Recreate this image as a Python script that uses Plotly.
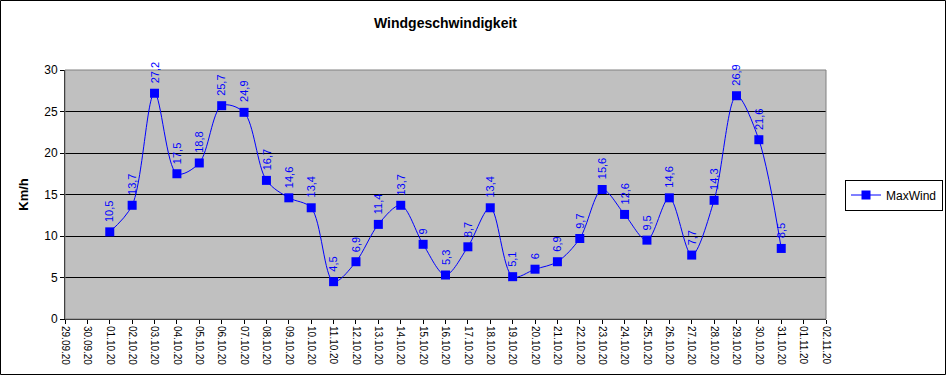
import plotly.graph_objects as go

dates = ["2020-10-%02d" % d for d in range(1, 32)]
max_wind = [10.5, 13.7, 27.2, 17.5, 18.8, 25.7, 24.9, 16.7, 14.6, 13.4, 4.5, 6.9, 11.4, 13.7, 9,
            5.3, 8.7, 13.4, 5.1, 6, 6.9, 9.7, 15.6, 12.6, 9.5, 14.6, 7.7, 14.3, 26.9, 21.6, 8.5]
x_range = ["2020-09-29", "2020-11-02"]
y_ticks = [0, 5, 10, 15, 20, 25, 30]

W, H = 946, 375
L, R, T, B = 65, 120, 70, 56
pw, ph = W - L - R, H - T - B
FONT = "Liberation Sans, Arial, sans-serif"
BLUE = "#0000FF"

fig = go.Figure()
fig.add_trace(go.Scatter(
    x=dates, y=max_wind, mode="lines+markers", name="MaxWind",
    line=dict(color=BLUE, width=1, shape="spline", smoothing=0.9),
    marker=dict(symbol="square", size=9, color=BLUE),
))

for d, v in zip(dates, max_wind):
    fig.add_annotation(
        x=d, y=v, text=("%g" % v).replace(".", ","), showarrow=False,
        textangle=-90, yanchor="bottom", xanchor="center", yshift=8,
        font=dict(family=FONT, size=11, color=BLUE),
    )

# plot area border (gray) and outer frame
fig.add_shape(type="rect", xref="paper", yref="paper", x0=0, x1=1, y0=0, y1=1,
              line=dict(color="#808080", width=1), layer="above")
fig.add_shape(type="rect", xref="paper", yref="paper",
              x0=-L / pw + 0.5 / pw, x1=(W - L - 0.5) / pw,
              y0=-B / ph + 0.5 / ph, y1=(H - B - 0.5) / ph,
              line=dict(color="black", width=1), layer="above")

fig.update_layout(
    width=W, height=H,
    margin=dict(l=L, r=R, t=T, b=B, autoexpand=False),
    paper_bgcolor="white", plot_bgcolor="#C0C0C0",
    font=dict(family=FONT, size=12, color="black"),
    title=dict(text="<b>Windgeschwindigkeit</b>", x=0.5, xref="paper", xanchor="center",
               yref="container", y=1 - 23 / H, yanchor="middle",
               font=dict(size=14, family=FONT)),
    showlegend=True,
    legend=dict(x=(845 - L) / pw, y=(H - B - 195) / ph, xanchor="left",
                yanchor="middle",
                bordercolor="black", borderwidth=1, bgcolor="white",
                font=dict(size=12, family=FONT)),
    xaxis=dict(type="date", range=x_range, dtick=86400000, tick0=x_range[0],
               tickformat="%d.%m.%y", tickangle=90, tickfont=dict(size=10),
               ticks="outside", ticklen=4, tickcolor="black", automargin=False,
               showgrid=False, showline=True, linecolor="black", linewidth=1,
               zeroline=False, fixedrange=True),
    yaxis=dict(range=[0, 30], tickvals=y_ticks, ticks="outside", ticklen=4,
               tickcolor="black", tickfont=dict(size=12), automargin=False,
               showgrid=True, gridcolor="black", gridwidth=1,
               showline=True, linecolor="black", linewidth=1, zeroline=False,
               title=dict(text="<b>Km/h</b>", font=dict(size=13), standoff=12)),
)

fig.write_html("out.html", config={"displayModeBar": False},
               post_script="document.body.style.margin='0';")
